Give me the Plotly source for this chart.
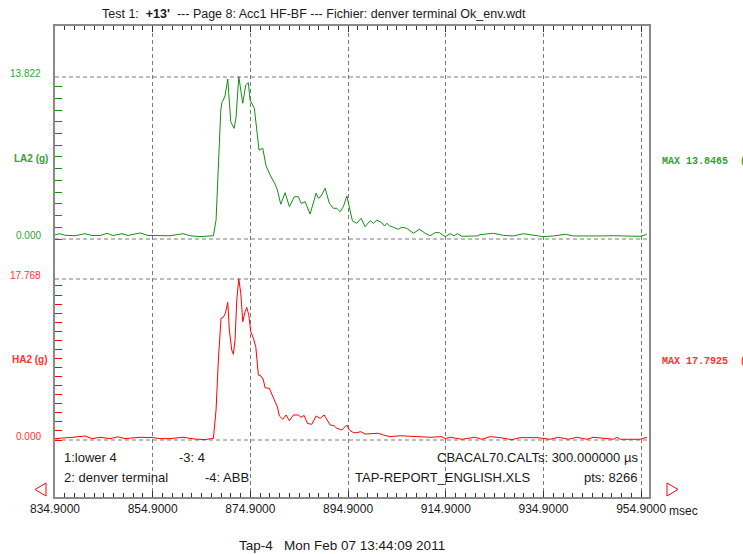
import plotly.graph_objects as go

# ---- LA2 channel (g) vs time (msec) ----
la2_t = [834.9, 835.92, 836.95, 839.0, 841.04, 842.48, 844.12, 845.55, 846.78, 848.62,
         849.85, 852.31, 853.94, 856.4, 858.45, 861.11, 862.55, 864.59, 866.64, 867.32,
         867.87, 868.34, 868.84, 869.1, 869.36, 869.7, 870.27, 870.88, 871.56, 871.97,
         872.52, 873.34, 873.95, 874.48, 874.83, 875.71, 876.2, 876.67, 877.43, 878.11,
         878.93, 879.95, 880.42, 881.12, 882.0, 882.88, 883.9, 884.72, 885.28, 886.1,
         887.12, 888.35, 888.82, 889.37, 890.19, 891.07, 891.89, 892.59, 893.26, 893.94,
         894.64, 895.17, 895.78, 896.68, 897.56, 898.38, 899.41, 900.08, 900.78, 901.8,
         902.33, 902.83, 903.36, 904.18, 905.2, 905.9, 906.92, 908.27, 909.5, 910.67,
         911.69, 912.72, 913.6, 914.76, 915.79, 916.61, 917.28, 918.18, 921.25, 921.93,
         924.65, 926.7, 928.75, 930.8, 932.85, 934.89, 936.94, 939.34, 941.04, 943.78,
         946.51, 949.23, 951.97, 954.7, 955.72, 956.07]
la2_g = [0.35, 0.45, 0.32, 0.28, 0.45, 0.3, 0.3, 0.48, 0.3, 0.45,
         0.3, 0.52, 0.3, 0.3, 0.28, 0.45, 0.28, 0.2, 0.22, 0.28,
         1.6, 6.7, 11.0, 11.7, 11.86, 12.2, 13.65, 10.0, 9.44, 10.4,
         13.8465, 11.58, 13.14, 13.34, 11.86, 11.15, 9.58, 7.59, 7.74, 6.23,
         5.46, 4.69, 4.18, 2.96, 3.95, 2.76, 3.61, 3.61, 3.04, 3.18,
         2.13, 3.9, 3.47, 3.67, 4.33, 3.04, 2.62, 2.62, 2.33, 2.76,
         3.67, 2.62, 1.56, 1.34, 1.77, 1.05, 1.56, 1.34, 1.62, 1.39,
         1.11, 1.34, 1.14, 1.0, 0.83, 1.0, 0.91, 0.49, 0.83, 0.49,
         0.28, 0.54, 0.54, 0.2, 0.45, 0.28, 0.45, 0.23, 0.26, 0.37,
         0.49, 0.31, 0.26, 0.45, 0.34, 0.2, 0.26, 0.4, 0.26, 0.23,
         0.26, 0.28, 0.23, 0.23, 0.34, 0.43]

# ---- HA2 channel (g) vs time (msec) ----
ha2_t = [834.9, 836.95, 838.59, 841.04, 842.48, 844.12, 846.16, 847.8, 849.23, 852.31,
         854.97, 856.4, 858.45, 861.11, 863.57, 865.62, 867.32, 867.87, 868.34, 868.89,
         869.36, 869.77, 870.27, 870.59, 871.08, 871.41, 871.76, 872.11, 872.52, 872.93,
         873.34, 873.81, 874.16, 874.57, 874.98, 875.51, 876.0, 876.53, 877.08, 877.56,
         877.9, 878.78, 879.28, 879.95, 880.42, 880.83, 881.53, 882.2, 882.88, 883.7,
         884.72, 885.28, 885.89, 886.57, 887.47, 888.35, 889.17, 889.99, 890.54, 891.22,
         892.03, 892.59, 893.61, 894.64, 895.17, 895.99, 896.68, 897.5, 898.38, 899.75,
         901.11, 902.13, 903.5, 905.55, 908.27, 911.69, 914.09, 914.76, 915.79, 918.18,
         920.91, 922.28, 923.98, 926.03, 928.42, 930.12, 933.54, 936.26, 937.96, 940.01,
         941.73, 943.78, 945.13, 949.23, 949.92, 950.6, 954.7, 955.72, 956.07]
ha2_g = [0.15, 0.2, 0.3, 0.44, 0.15, 0.3, 0.15, 0.35, 0.15, 0.3,
         0.26, 0.15, 0.15, 0.3, 0.1, 0.05, 0.18, 3.31, 8.83, 13.43,
         13.54, 13.98, 15.19, 12.14, 9.93, 9.46, 11.03, 15.45, 17.7925, 16.19,
         13.05, 14.16, 14.64, 13.79, 11.95, 11.22, 10.29, 7.17, 7.06, 6.62,
         5.77, 5.7, 5.15, 4.23, 3.67, 2.65, 2.28, 2.76, 2.13, 2.76,
         2.76, 2.5, 2.72, 1.84, 1.73, 2.65, 2.39, 2.76, 2.28, 1.66,
         1.58, 1.29, 1.1, 1.66, 1.1, 0.81, 0.81, 0.92, 0.66, 0.74,
         0.74, 0.55, 0.37, 0.47, 0.37, 0.3, 0.37, 0.15, 0.3, 0.08,
         0.3, 0.08, 0.37, 0.26, 0.04, 0.26, 0.26, 0.08, 0.3, 0.08,
         0.3, 0.08, 0.3, 0.08, 0.3, 0.08, 0.08, 0.3, 0.3]

# ---- axis settings / labels ----
x_ticks = [834.9, 854.9, 874.9, 894.9, 914.9, 934.9, 954.9]
x_tick_labels = ["834.9000", "854.9000", "874.9000", "894.9000", "914.9000", "934.9000", "954.9000"]
x_range = [834.9, 956.5]
la2_full_scale = 13.822
ha2_full_scale = 17.768
la2_max = 13.8465
ha2_max = 17.7925

GREEN = "#178c17"
GREEN_TXT = "#34a034"
RED = "#ff0000"
RED_TXT = "#ff3030"
GRID = "#7a7a7a"
FRAME = "#8a8a8a"
TXT = "#1a1a1a"
FONT = "Liberation Sans, Arial, sans-serif"

W, H = 743, 554
L, R, T, B = 55, 94, 26, 57
PW, PH = W - L - R, H - T - B


def px_x(px):
    return (px - L) / PW


def px_y(py):
    return (H - B - py) / PH


# Each channel gets its own overlaid y scale: zero / full-scale pixel rows
def y_range(zero_py, full_py, full_val):
    k = (zero_py - full_py) / full_val
    return [-(H - B - zero_py) / k, (zero_py - T) / k]


fig = go.Figure()
fig.add_trace(go.Scatter(x=la2_t, y=la2_g, mode="lines", yaxis="y",
                         line=dict(color=GREEN, width=1), hoverinfo="skip", showlegend=False))
fig.add_trace(go.Scatter(x=ha2_t, y=ha2_g, mode="lines", yaxis="y2",
                         line=dict(color=RED, width=1), hoverinfo="skip", showlegend=False))

dash = "4px,3px"
shapes = []
for yref, val in (("y", 0), ("y", la2_full_scale), ("y2", 0), ("y2", ha2_full_scale)):
    shapes.append(dict(type="line", xref="paper", x0=0, x1=1, yref=yref, y0=val, y1=val,
                       line=dict(color=GRID, width=1, dash=dash), layer="below"))

# scroll arrows either side of the time axis
for pts in (((46, 483), (46, 496), (35, 489.5)), ((667, 483), (667, 496), (678, 489.5))):
    path = "M " + " L ".join(f"{px_x(a):.5f},{px_y(b):.5f}" for a, b in pts) + " Z"
    shapes.append(dict(type="path", xref="paper", yref="paper", path=path,
                       line=dict(color=RED, width=1), fillcolor="rgba(0,0,0,0)"))

ann = []


def text(x, y, s, color=TXT, size=12, anchor="left", family=FONT, yanchor="middle"):
    ann.append(dict(xref="paper", yref="paper", x=px_x(x), y=px_y(y), text=s, showarrow=False,
                    xanchor=anchor, yanchor=yanchor, font=dict(color=color, size=size, family=family)))


text(100, 14, "Test 1:  <b>+13'</b>  --- Page 8: Acc1 HF-BF --- Fichier: denver terminal Ok_env.wdt",
     size=12.5)
text(43, 74, f"{la2_full_scale:.3f}", GREEN_TXT, 10, "right")
text(43, 235, "0.000", GREEN_TXT, 10, "right")
text(50, 158, "<b>LA2 (g)</b>", GREEN_TXT, 10, "right")
text(43, 275, f"{ha2_full_scale:.3f}", RED_TXT, 10, "right")
text(43, 436, "0.000", RED_TXT, 10, "right")
text(50, 359, "<b>HA2 (g)</b>", RED_TXT, 10, "right")
mono = "Liberation Mono, Courier New, monospace"
text(660, 161, f"<b>MAX {la2_max:.4f}  (g)</b>", GREEN_TXT, 10, "left", mono)
text(660, 361, f"<b>MAX {ha2_max:.4f}  (g)</b>", RED_TXT, 10, "left", mono)
INFO = 13
text(62, 457, "1:lower 4", size=INFO)
text(177, 457, "-3: 4", size=INFO)
text(640, 457, "CBACAL70.CALTs: 300.000000 µs", anchor="right", size=INFO)
text(62, 477, "2: denver terminal", size=INFO)
text(203, 477, "-4: ABB", size=INFO)
text(532, 477, "TAP-REPORT_ENGLISH.XLS", anchor="right", size=INFO)
text(640, 477, "pts: 8266", anchor="right", size=INFO)
text(667, 511, "msec")
text(342, 545, "Tap-4   Mon Feb 07 13:44:09 2011", anchor="center", size=13.5)

fig.update_layout(
    width=W, height=H,
    margin=dict(l=L, r=R, t=T, b=B, pad=0),
    paper_bgcolor="white", plot_bgcolor="white",
    font=dict(family=FONT, size=12, color=TXT),
    showlegend=False,
    xaxis=dict(range=x_range, tickvals=x_ticks, ticktext=x_tick_labels,
               showgrid=True, gridcolor=GRID, griddash=dash, gridwidth=1,
               showline=True, linecolor=FRAME, linewidth=2, mirror="ticks",
               ticks="inside", ticklen=6, tickcolor="#333", tickwidth=1,
               minor=dict(ticks="inside", ticklen=4, tick0=834.9, dtick=2, tickcolor="#333", showgrid=False),
               tickfont=dict(size=12, color=TXT), zeroline=False, fixedrange=True),
    yaxis=dict(range=y_range(239, 77, la2_full_scale), tickvals=list(range(0, 14)),
               ticktext=[""] * 14, ticks="inside", ticklen=7, tickcolor=GREEN, tickwidth=1,
               showgrid=False, zeroline=False, showline=True, linecolor=FRAME, linewidth=2,
               mirror=True, fixedrange=True),
    yaxis2=dict(range=y_range(440, 279, ha2_full_scale), overlaying="y", side="left",
                tickvals=list(range(0, 18)), ticktext=[""] * 18, ticks="inside", ticklen=7,
                tickcolor=RED, tickwidth=1, showgrid=False, zeroline=False, showline=False,
                fixedrange=True),
    shapes=shapes,
    annotations=ann,
)

fig.write_html("out.html")
